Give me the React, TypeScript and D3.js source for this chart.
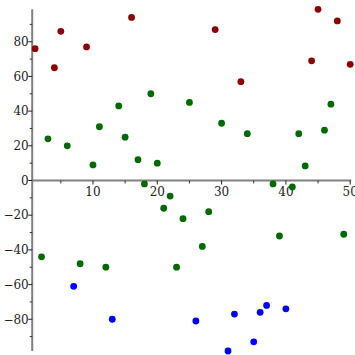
import React from "react";
import * as d3 from "d3";

const xValues: number[] = Array.from({ length: 50 }, (_, i) => i + 1);
const yValues: number[] = [
  76, -44, 24, 65, 86, 20, -61, -48, 77, 9,
  31, -50, -80, 43, 25, 94, 12, -2, 50, 10,
  -16, -9, -50, -22, 45, -81, -38, -18, 87, 33,
  -98.3, -77, 57, 27, -93, -76, -72, -2, -32, -74,
  -3.7, 27, 8.4, 69, 98.7, 29, 44, 92, -31, 67,
];
const xMajorTicks = [10, 20, 30, 40, 50];
const xMinorTicks = [5, 15, 25, 35, 45];
const yMajorTicks = [-80, -60, -40, -20, 0, 20, 40, 60, 80];
const yMinorTicks = [-90, -70, -50, -30, -10, 10, 30, 50, 70, 90];

const W = 355;
const H = 355;

function colorFor(v: number) {
  if (v > 55) return "#8b0000";
  if (v < -55) return "#0000ff";
  return "#006a00";
}

export default function App() {
  const x = d3.scaleLinear().domain([1, 50]).range([35.1, 350.2]);
  const yExt = d3.extent(yValues) as [number, number];
  const y = d3.scaleLinear().domain(yExt).range([351, 9.3]);
  const axisX = x(0.55);
  const axisY = y(0);
  const fmt = (v: number) => (v < 0 ? "\u2212" + Math.abs(v) : String(v));
  const font = "'DejaVu Serif', serif";

  return (
    <svg
      width={W}
      height={H}
      style={{ position: "absolute", left: 0, top: 0, background: "#fff" }}
    >
      {/* axes */}
      <line x1={axisX} x2={axisX} y1={y(yExt[1])} y2={y(yExt[0])} stroke="#808080" strokeWidth={2} />
      <line x1={axisX} x2={x(50) + 1} y1={axisY} y2={axisY} stroke="#808080" strokeWidth={2} />

      {xMinorTicks.map((t) => (
        <line key={"xm" + t} x1={x(t)} x2={x(t)} y1={axisY} y2={axisY + 3} stroke="#333" strokeWidth={1} />
      ))}
      {xMajorTicks.map((t) => (
        <g key={"xM" + t}>
          <line x1={x(t)} x2={x(t)} y1={axisY} y2={axisY + 4} stroke="#222" strokeWidth={1} />
          <text x={x(t)} y={axisY + 16} textAnchor="middle" fontFamily={font} fontSize={12} fill="#222">
            {fmt(t)}
          </text>
        </g>
      ))}
      {yMinorTicks.map((t) => (
        <line key={"ym" + t} x1={axisX - 2.5} x2={axisX} y1={y(t)} y2={y(t)} stroke="#333" strokeWidth={1} />
      ))}
      {yMajorTicks.map((t) => (
        <g key={"yM" + t}>
          <line x1={axisX - 4} x2={axisX} y1={y(t)} y2={y(t)} stroke="#222" strokeWidth={1} />
          <text x={axisX - 3.5} y={y(t) + 4.3} textAnchor="end" fontFamily={font} fontSize={12} fill="#222">
            {fmt(t)}
          </text>
        </g>
      ))}

      {xValues.map((xv, i) => (
        <circle key={i} cx={x(xv)} cy={y(yValues[i])} r={3.4} fill={colorFor(yValues[i])} />
      ))}
    </svg>
  );
}
